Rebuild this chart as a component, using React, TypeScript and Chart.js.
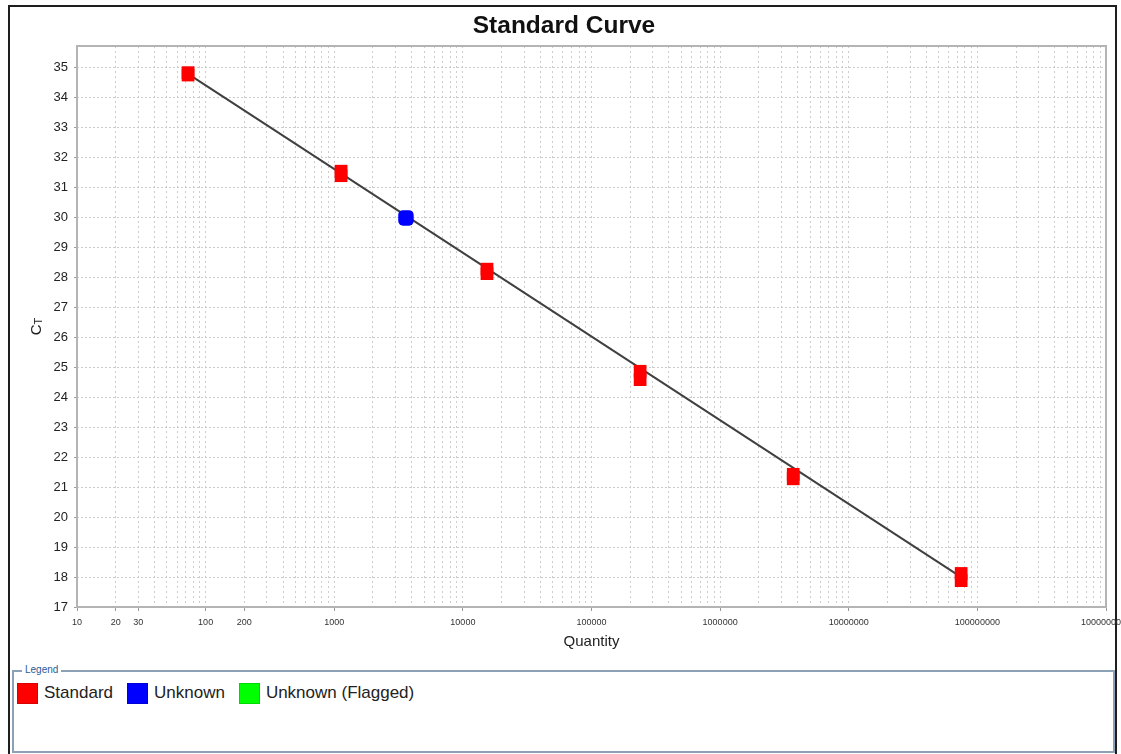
import React, { useEffect, useRef } from "react";
import { Chart, registerables } from "chart.js";

Chart.register(...registerables);

const chartTitle = "Standard Curve";
const xAxisTitle = "Quantity";
const yAxisTitleMain = "C";
const yAxisTitleSub = "T";

const standardQuantity = [73, 73, 1130, 1130, 15400, 15400, 238800, 238800, 3700000, 3700000, 74800000, 74800000];
const standardCt = [34.84, 34.76, 31.55, 31.4, 28.28, 28.13, 24.87, 24.59, 21.43, 21.28, 18.12, 17.88];
const unknownQuantity = [3610];
const unknownCt = [29.99];
const fitQuantity = [73, 74800000];
const fitCt = [34.8, 18.0];

const xDecades = [10, 100, 1000, 10000, 100000, 1000000, 10000000, 100000000, 1000000000];
const xMinorMultipliers = [2, 3, 4, 5, 6, 7, 8, 9];
const xLabelledTicks = [10, 20, 30, 100, 200, 1000, 10000, 100000, 1000000, 10000000, 100000000, 1000000000];
const yTicks = [17, 18, 19, 20, 21, 22, 23, 24, 25, 26, 27, 28, 29, 30, 31, 32, 33, 34, 35];
const xMin = 10;
const xMax = 1000000000;
const yMin = 17;
const yMax = 35.73;

const legendTitle = "Legend";
const legendLabels = ["Standard", "Unknown", "Unknown (Flagged)"];
const legendColors = ["#ff0000", "#0000ff", "#00ff00"];

const FONT = '"Liberation Sans", Arial, sans-serif';

export default function App() {
  const canvasRef = useRef<HTMLCanvasElement | null>(null);

  useEffect(() => {
    const canvas = canvasRef.current;
    if (!canvas) return;
    Chart.defaults.font.family = FONT;

    const xTickValues: number[] = [];
    xDecades.forEach((d, i) => {
      xTickValues.push(d);
      if (i < xDecades.length - 1) {
        xMinorMultipliers.forEach((m) => xTickValues.push(Math.round(d * m)));
      }
    });

    const framePlugin = {
      id: "plotFrame",
      beforeDatasetsDraw(chart: any) {
        const { ctx, chartArea: a } = chart;
        ctx.save();
        ctx.strokeStyle = "#b4b4b4";
        ctx.lineWidth = 2;
        ctx.strokeRect(a.left, a.top, a.right - a.left, a.bottom - a.top);
        ctx.restore();
      },
    };

    const ctTitlePlugin = {
      id: "ctTitle",
      afterDraw(chart: any) {
        const { ctx, chartArea: a } = chart;
        ctx.save();
        ctx.translate(37, (a.top + a.bottom) / 2);
        ctx.rotate(-Math.PI / 2);
        ctx.fillStyle = "#222";
        ctx.textBaseline = "middle";
        ctx.font = `15px ${FONT}`;
        const wC = ctx.measureText(yAxisTitleMain).width;
        ctx.font = `11px ${FONT}`;
        const wT = ctx.measureText(yAxisTitleSub).width;
        const start = -(wC + wT) / 2;
        ctx.font = `15px ${FONT}`;
        ctx.textAlign = "left";
        ctx.fillText(yAxisTitleMain, start, 0);
        ctx.font = `11px ${FONT}`;
        ctx.fillText(yAxisTitleSub, start + wC, 2);
        ctx.restore();
      },
    };

    const chart = new Chart(canvas, {
      type: "scatter",
      data: {
        datasets: [
          {
            label: "Unknown",
            data: unknownQuantity.map((q, i) => ({ x: q, y: unknownCt[i] })),
            pointStyle: "rectRounded",
            pointRadius: 9,
            backgroundColor: "#0000ff",
            borderColor: "#0000ff",
            borderWidth: 0,
          },
          {
            label: "Standard",
            data: standardQuantity.map((q, i) => ({ x: q, y: standardCt[i] })),
            pointStyle: "rect",
            pointRadius: 9,
            backgroundColor: "#ff0000",
            borderColor: "#ff0000",
            borderWidth: 0,
          },
          {
            label: "Fit",
            data: fitQuantity.map((q, i) => ({ x: q, y: fitCt[i] })),
            showLine: true,
            borderColor: "#404040",
            borderWidth: 2,
            pointRadius: 0,
            fill: false,
          },
        ],
      } as any,
      options: {
        responsive: false,
        animation: false,
        devicePixelRatio: 1,
        events: [],
        layout: { padding: { left: 22, right: 15, top: 0, bottom: 0 } },
        plugins: {
          legend: { display: false },
          tooltip: { enabled: false },
          title: {
            display: true,
            text: chartTitle,
            color: "#111",
            font: { size: 24.5, weight: "bold", family: FONT },
            padding: { top: 12, bottom: 4.6 },
          },
        },
        scales: {
          x: {
            type: "logarithmic",
            min: xMin,
            max: xMax,
            afterBuildTicks: (s: any) => {
              s.ticks = xTickValues.map((v) => ({ value: v }));
            },
            afterFit: (s: any) => {
              s.height = 53;
              s.paddingLeft = 0;
              s.paddingRight = 0;
            },
            ticks: {
              autoSkip: false,
              maxRotation: 0,
              minRotation: 0,
              padding: 6,
              color: "#333",
              font: { size: 9 },
              callback: (v: any) => (xLabelledTicks.includes(Number(v)) ? String(v) : ""),
            },
            grid: {
              color: "#cdcdcd",
              lineWidth: 1,
              tickLength: 4,
              tickColor: (c: any) =>
                c.tick && xLabelledTicks.includes(c.tick.value) ? "#999" : "rgba(0,0,0,0)",
            },
            border: { display: false, dash: [2, 3] },
            title: {
              display: true,
              text: xAxisTitle,
              color: "#222",
              font: { size: 15 },
              padding: { top: 0, bottom: 9 },
            },
          },
          y: {
            type: "linear",
            min: yMin,
            max: yMax,
            afterBuildTicks: (s: any) => {
              s.ticks = yTicks.map((v) => ({ value: v }));
            },
            afterFit: (s: any) => {
              s.width = 55;
              s.paddingTop = 0;
              s.paddingBottom = 0;
            },
            ticks: {
              padding: 6,
              color: "#222",
              font: { size: 13 },
              callback: (v: any) => String(v),
            },
            grid: {
              color: "#cbcbcb",
              lineWidth: 1,
              tickLength: 3,
              tickColor: "#999",
            },
            border: { display: false, dash: [2, 2] },
          },
        },
      } as any,
      plugins: [framePlugin, ctTitlePlugin],
    });

    return () => chart.destroy();
  }, []);

  return (
    <div style={{ position: "fixed", left: 0, top: 0, width: 1121, height: 754, background: "#fff", overflow: "hidden", fontFamily: FONT }}>
      <div
        style={{
          position: "absolute",
          left: 8,
          top: 5,
          width: 1109,
          height: 800,
          border: "2px solid #1e1e1e",
          boxSizing: "border-box",
        }}
      />
      <canvas
        ref={canvasRef}
        width={1121}
        height={660}
        style={{ position: "absolute", left: 0, top: 0, width: 1121, height: 660 }}
      />
      <div
        style={{
          position: "absolute",
          left: 12,
          top: 670,
          width: 1103,
          height: 83,
          border: "2px solid #8ca1b6",
          boxSizing: "border-box",
        }}
      />
      <div
        style={{
          position: "absolute",
          left: 22,
          top: 663,
          padding: "0 3px",
          background: "#fff",
          color: "#2a5b9b",
          fontSize: 10,
          lineHeight: "14px",
        }}
      >
        {legendTitle}
      </div>
      <div style={{ position: "absolute", left: 17, top: 682, display: "flex", alignItems: "center" }}>
        {legendLabels.map((label, i) => (
          <div key={label} style={{ display: "flex", alignItems: "center", marginRight: 14 }}>
            <div
              style={{
                width: 21,
                height: 21,
                background: legendColors[i],
                border: "1px solid rgba(0,0,0,0.15)",
                boxSizing: "border-box",
                marginRight: 6,
              }}
            />
            <span style={{ fontSize: 17, color: "#222", lineHeight: "22px" }}>{label}</span>
          </div>
        ))}
      </div>
    </div>
  );
}
